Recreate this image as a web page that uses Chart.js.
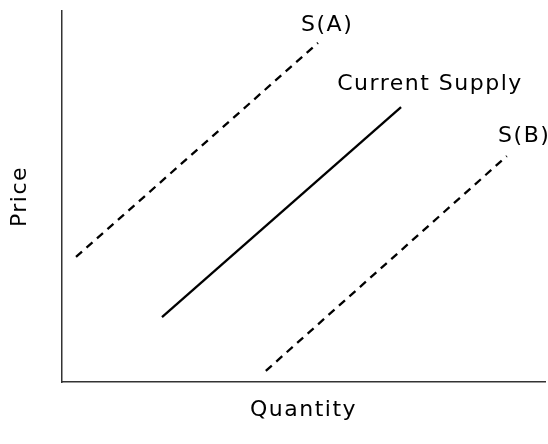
<!DOCTYPE html>
<html>
<head>
<meta charset="utf-8">
<script src="https://cdn.jsdelivr.net/npm/chart.js@4"></script>
<style>
  html, body { margin: 0; padding: 0; background: #fff; }
  #wrap { width: 548px; height: 444px; }
</style>
</head>
<body>
<div id="wrap"><canvas id="supplyChart" width="548" height="444"></canvas></div>
<script>
// supply curves (quantity 0-10, price 0-10)
const seriesNames = ["S(A)", "Current Supply", "S(B)"];
const supplyAQty = [0.29, 5.30];
const supplyAPrice = [3.37, 9.14];
const currentQty = [2.07, 7.02];
const currentPrice = [1.75, 7.41];
const supplyBQty = [4.22, 9.21];
const supplyBPrice = [0.30, 6.09];

// where each curve name sits
const labelQty = [5.49, 7.62, 9.57];
const labelPrice = [9.62, 8.03, 6.63];

const xTitle = "Quantity";
const yTitle = "Price";

function toPoints(xs, ys) {
  return xs.map((x, i) => ({ x: x, y: ys[i] }));
}

const textFont = '22px "DejaVu Sans"';

// draws curve names and axis titles
const textPlugin = {
  id: "textPlugin",
  afterDraw(chart) {
    const ctx = chart.ctx;
    const xs = chart.scales.x;
    const ys = chart.scales.y;
    const area = chart.chartArea;
    ctx.save();
    ctx.font = textFont;
    ctx.fillStyle = "#000";
    ctx.letterSpacing = "1.5px";
    ctx.textAlign = "center";
    ctx.textBaseline = "middle";
    for (let i = 0; i < seriesNames.length; i++) {
      ctx.fillText(seriesNames[i], xs.getPixelForValue(labelQty[i]), ys.getPixelForValue(labelPrice[i]));
    }
    ctx.fillText(xTitle, (area.left + area.right) / 2, area.bottom + 28);
    ctx.translate(area.left - 42, (area.top + area.bottom) / 2);
    ctx.rotate(-Math.PI / 2);
    ctx.fillText(yTitle, 0, 0);
    ctx.restore();
  }
};

const ctx = document.getElementById("supplyChart").getContext("2d");
new Chart(ctx, {
  type: "line",
  data: {
    datasets: [
      {
        label: seriesNames[0],
        data: toPoints(supplyAQty, supplyAPrice),
        borderColor: "#000",
        borderWidth: 2.3,
        borderDash: [8, 6],
        pointRadius: 0
      },
      {
        label: seriesNames[1],
        data: toPoints(currentQty, currentPrice),
        borderColor: "#000",
        borderWidth: 2.3,
        pointRadius: 0
      },
      {
        label: seriesNames[2],
        data: toPoints(supplyBQty, supplyBPrice),
        borderColor: "#000",
        borderWidth: 2.3,
        borderDash: [8, 6],
        pointRadius: 0
      }
    ]
  },
  options: {
    responsive: false,
    animation: false,
    layout: { padding: { left: 62, right: 3, top: 11, bottom: 62 } },
    plugins: {
      legend: { display: false },
      tooltip: { enabled: false }
    },
    scales: {
      x: {
        type: "linear",
        min: 0,
        max: 10,
        ticks: { display: false },
        grid: { display: false, drawTicks: false },
        border: { display: true, color: "#333", width: 1.5 }
      },
      y: {
        type: "linear",
        min: 0,
        max: 10,
        ticks: { display: false },
        grid: { display: false, drawTicks: false },
        border: { display: true, color: "#333", width: 1.5 }
      }
    }
  },
  plugins: [textPlugin]
});
</script>
</body>
</html>
